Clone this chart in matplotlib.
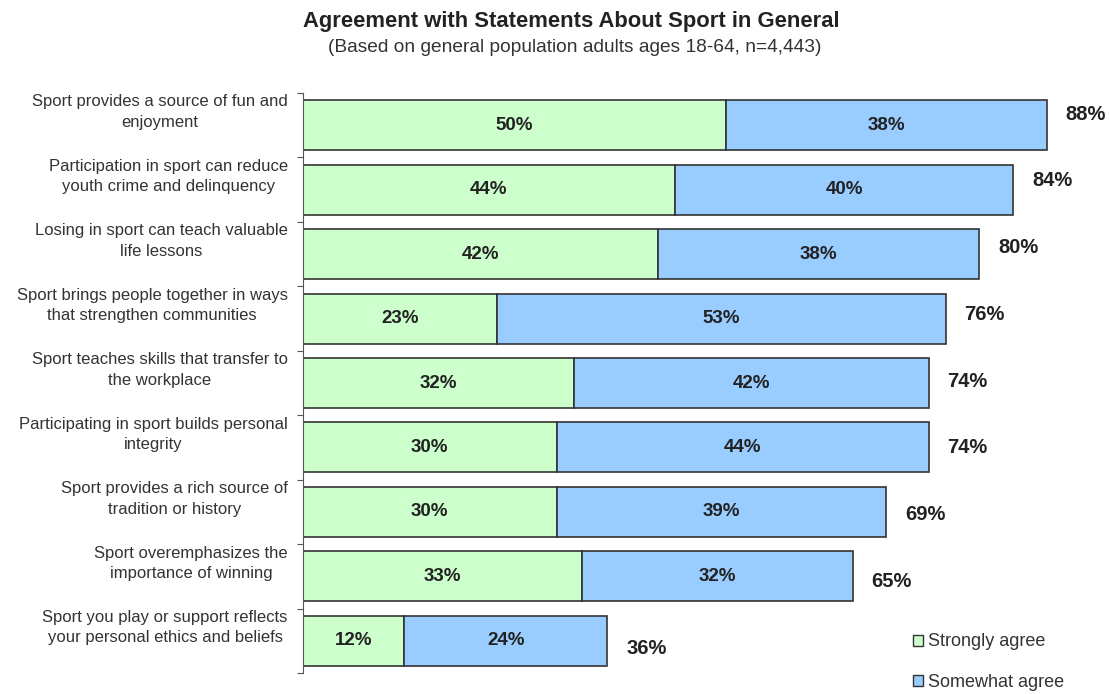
import numpy as np
import matplotlib
matplotlib.use("Agg")
import matplotlib.pyplot as plt
from matplotlib.patches import Patch

plt.rcParams['font.family'] = ['Liberation Sans', 'DejaVu Sans']

statements = [
    "Sport provides a source of fun and\nenjoyment",
    "Participation in sport can reduce\nyouth crime and delinquency",
    "Losing in sport can teach valuable\nlife lessons",
    "Sport brings people together in ways\nthat strengthen communities",
    "Sport teaches skills that transfer to\nthe workplace",
    "Participating in sport builds personal\nintegrity",
    "Sport provides a rich source of\ntradition or history",
    "Sport overemphasizes the\nimportance of winning",
    "Sport you play or support reflects\nyour personal ethics and beliefs",
]
strongly = [50, 44, 42, 23, 32, 30, 30, 33, 12]
somewhat = [38, 40, 38, 53, 42, 44, 39, 32, 24]
totals = [88, 84, 80, 76, 74, 74, 69, 65, 36]

green = '#ccffcc'
blue = '#99ccff'
edge = '#333333'

fig = plt.figure(figsize=(11.09, 6.94), dpi=100)
ax = fig.add_axes([303/1109, 21/694, 806/1109, 580/694])

y = np.arange(len(statements))
ax.barh(y, strongly, height=0.775, color=green, edgecolor=edge, linewidth=1.2,
        label='Strongly agree')
ax.barh(y, somewhat, left=strongly, height=0.775, color=blue, edgecolor=edge,
        linewidth=1.2, label='Somewhat agree')

ax.set_xlim(0, 806/8.4545)
ax.set_ylim(len(statements) - 0.5, -0.5)

# segment labels
for i in range(len(statements)):
    ax.text(strongly[i]/2, i, f"{strongly[i]}%", ha='center', va='center',
            fontsize=13.5, fontweight='bold', color='#222222')
    ax.text(strongly[i] + somewhat[i]/2, i, f"{somewhat[i]}%", ha='center',
            va='center', fontsize=13.5, fontweight='bold', color='#222222')
    # totals drift slightly relative to the bars, as in the original
    ax.annotate(f"{totals[i]}%", (totals[i], i), xytext=(13.5, 8 - 1.65*i),
                textcoords='offset points', ha='left', va='center',
                fontsize=14.5, fontweight='bold', color='#222222')
    ax.annotate(statements[i], (0, i), xytext=(-11, 9.4),
                textcoords='offset points', ha='right', va='center',
                multialignment='center', fontsize=12, color='#333333',
                linespacing=1.45)

for s in ['top', 'right', 'bottom']:
    ax.spines[s].set_visible(False)
ax.spines['left'].set_color('#555555')
ax.spines['left'].set_linewidth(0.8)
ax.set_xticks([])
ax.set_yticks([])
ax.set_yticks(np.arange(-0.5, len(statements)), minor=True)
ax.tick_params(axis='y', which='minor', length=4, width=0.8, color='#555555',
               direction='out')

fig.text(0.515, 0.969, "Agreement with Statements About Sport in General",
         ha='center', va='center', fontsize=15.8, fontweight='bold',
         color='#222222')
fig.text(0.518, 0.932, "(Based on general population adults ages 18-64, n=4,443)",
         ha='center', va='center', fontsize=13.8, color='#333333')

handles = [Patch(facecolor=green, edgecolor=edge, linewidth=1),
           Patch(facecolor=blue, edgecolor=edge, linewidth=1)]
fig.legend(handles, ['Strongly agree', 'Somewhat agree'], loc='lower left',
           bbox_to_anchor=(0.809, -0.019), frameon=False, fontsize=13,
           handlelength=0.55, handleheight=0.55, handletextpad=0.25,
           labelspacing=1.3, labelcolor='#333333')

fig.savefig('out.png', dpi=100)
